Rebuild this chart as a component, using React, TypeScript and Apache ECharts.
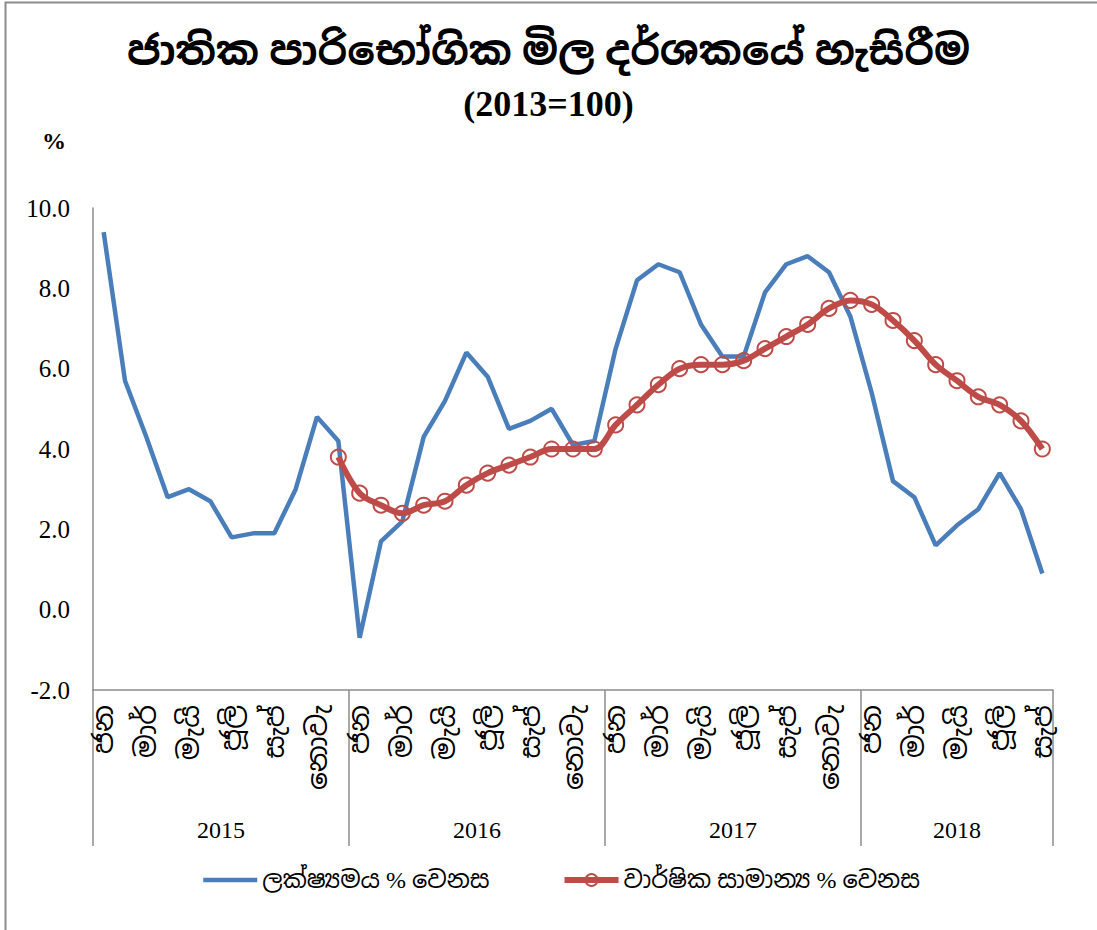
import React, { useEffect, useRef } from 'react';
import * as echarts from 'echarts';

const chartTitle = 'ජාතික පාරිභෝගික මිල දර්ශකයේ හැසිරීම';
const chartSubtitle = '(2013=100)';
const unitLabel = '%';
const monthNames = ['ජන', 'පෙබ', 'මාර්', 'අප්‍රේ', 'මැයි', 'ජූනි', 'ජූලි', 'අගෝ', 'සැප්', 'ඔක්', 'නොවැ', 'දෙසැ'];
const years = ['2015', '2016', '2017', '2018'];
const monthsPerYear = [12, 12, 12, 9];
const seriesNames = ['ලක්ෂ්‍යමය % වෙනස', 'වාර්ෂික සාමාන්‍ය % වෙනස'];

const pointChange = [
  9.4, 5.7, 4.3, 2.8, 3.0, 2.7, 1.8, 1.9, 1.9, 3.0, 4.8, 4.2,
  -0.7, 1.7, 2.2, 4.3, 5.2, 6.4, 5.8, 4.5, 4.7, 5.0, 4.1, 4.2,
  6.5, 8.2, 8.6, 8.4, 7.1, 6.3, 6.3, 7.9, 8.6, 8.8, 8.4, 7.3,
  5.4, 3.2, 2.8, 1.6, 2.1, 2.5, 3.4, 2.5, 0.9,
];
const annualAverage = [
  null, null, null, null, null, null, null, null, null, null, null, 3.8,
  2.9, 2.6, 2.4, 2.6, 2.7, 3.1, 3.4, 3.6, 3.8, 4.0, 4.0, 4.0,
  4.6, 5.1, 5.6, 6.0, 6.1, 6.1, 6.2, 6.5, 6.8, 7.1, 7.5, 7.7,
  7.6, 7.2, 6.7, 6.1, 5.7, 5.3, 5.1, 4.7, 4.0,
];
const yMin = -2;
const yMax = 10;
const yInterval = 2;

const serif = "'Liberation Serif', 'Noto Sans Sinhala', 'Times New Roman', serif";
const axisGrey = '#8c8c8c';
const blue = '#4A7EBB';
const red = '#BE4B48';

export default function App() {
  const ref = useRef<HTMLDivElement>(null);
  useEffect(() => {
    if (!ref.current) return;
    const chart = echarts.init(ref.current, null, { renderer: 'svg' });
    const categories: string[] = [];
    years.forEach((_, i) => {
      for (let m = 0; m < monthsPerYear[i]; m++) categories.push(monthNames[m]);
    });
    const total = categories.length;
    const boundaries: number[] = [0];
    let acc = 0;
    monthsPerYear.forEach((n) => {
      acc += n;
      boundaries.push(acc);
    });
    const yearCenters = monthsPerYear.map((n, i) => boundaries[i] + n / 2);

    chart.setOption({
      animation: false,
      backgroundColor: '#fff',
      title: [
        {
          text: chartTitle,
          left: 'center',
          top: 25,
          textStyle: { fontSize: 41, fontWeight: 'bold', color: '#000', fontFamily: serif },
        },
        {
          text: chartSubtitle,
          left: 'center',
          top: 81,
          textStyle: { fontSize: 36, fontWeight: 'bold', color: '#000', fontFamily: serif },
        },
        {
          text: unitLabel,
          left: 37,
          top: 124,
          textStyle: { fontSize: 24, fontWeight: 'bold', color: '#000', fontFamily: serif },
        },
      ],
      graphic: [
        {
          type: 'rect',
          shape: { x: 5.5, y: 2.5, width: 1200, height: 1000 },
          style: { fill: 'none', stroke: axisGrey, lineWidth: 2 },
          silent: true,
        },
      ],
      legend: {
        left: 196,
        top: 863,
        itemWidth: 54,
        itemHeight: 15,
        itemGap: 72,
        data: [
          { name: seriesNames[0], itemStyle: { opacity: 0 }, lineStyle: { width: 4.5, color: blue } },
          { name: seriesNames[1], lineStyle: { width: 6, color: red } },
        ],
        textStyle: { fontSize: 24, color: '#000', fontFamily: serif },
      },
      grid: { left: 93, right: 44, top: 208, bottom: 240, containLabel: false },
      xAxis: [
        {
          type: 'category',
          data: categories,
          boundaryGap: true,
          axisLine: { show: true, onZero: false, lineStyle: { color: axisGrey, width: 1.5 } },
          axisTick: { show: false },
          axisLabel: {
            interval: 1,
            rotate: 90,
            margin: 15,
            fontSize: 28,
            color: '#000',
            fontFamily: serif,
          },
          splitLine: { show: false },
        },
        {
          type: 'value',
          min: 0,
          max: total,
          position: 'bottom',
          axisLine: { show: false, onZero: false },
          splitLine: { show: false },
          axisTick: {
            show: true,
            inside: false,
            length: 156,
            customValues: boundaries,
            lineStyle: { color: axisGrey, width: 1.5 },
          },
          axisLabel: {
            show: true,
            customValues: yearCenters,
            margin: 128,
            fontSize: 24,
            color: '#000',
            fontFamily: serif,
            formatter: (v: number) => {
              const i = yearCenters.findIndex((c) => Math.abs(c - v) < 1e-6);
              return i >= 0 ? years[i] : '';
            },
          },
        },
      ],
      yAxis: {
        type: 'value',
        min: yMin,
        max: yMax,
        interval: yInterval,
        axisLine: { show: true, onZero: false, lineStyle: { color: axisGrey, width: 1.5 } },
        axisTick: { show: false },
        splitLine: { show: false },
        axisLabel: {
          margin: 23,
          fontSize: 25,
          color: '#000',
          fontFamily: serif,
          formatter: (v: number) => v.toFixed(1),
        },
      },
      series: [
        {
          name: seriesNames[0],
          type: 'line',
          xAxisIndex: 0,
          data: pointChange,
          showSymbol: false,
          symbol: 'none',
          lineStyle: { color: blue, width: 4.5 },
          itemStyle: { color: blue },
        },
        {
          name: seriesNames[1],
          type: 'line',
          xAxisIndex: 0,
          data: annualAverage,
          smooth: 0.35,
          symbol: 'circle',
          symbolSize: 15,
          showSymbol: true,
          showAllSymbol: true,
          lineStyle: { color: red, width: 6 },
          itemStyle: { color: 'rgba(255,255,255,0)', borderColor: red, borderWidth: 2 },
          z: 3,
        },
      ],
    });
    return () => chart.dispose();
  }, []);
  return <div ref={ref} style={{ position: 'fixed', left: 0, top: 0, width: 1097, height: 930 }} />;
}
